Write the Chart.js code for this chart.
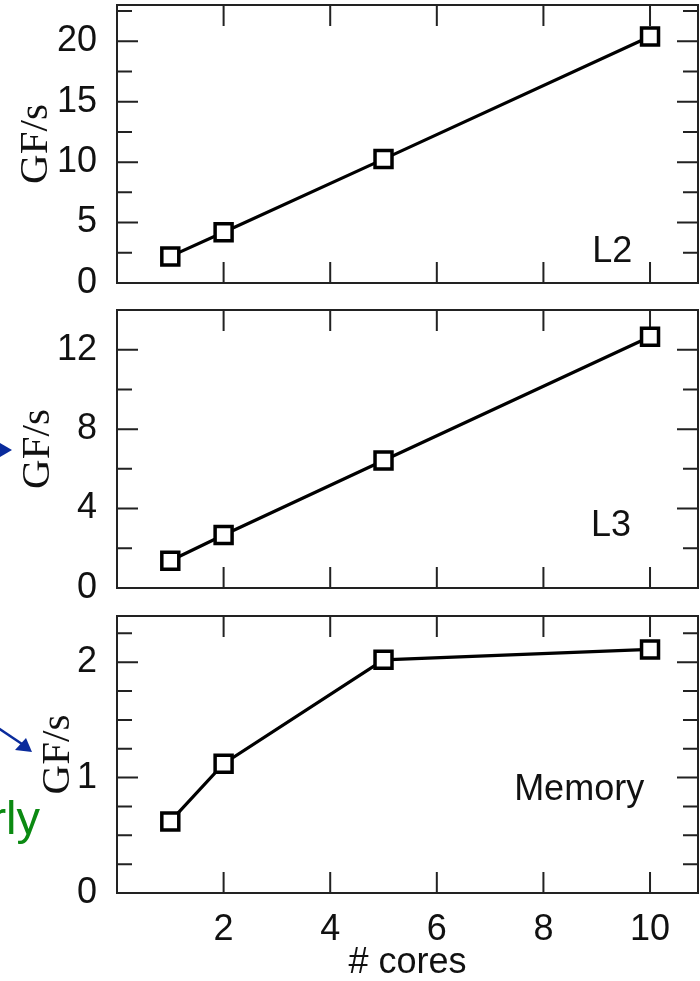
<!DOCTYPE html>
<html>
<head>
<meta charset="utf-8">
<script src="https://cdn.jsdelivr.net/npm/chart.js@4.4.1/dist/chart.umd.min.js"></script>
<style>
  html, body { margin: 0; padding: 0; background: #fff; }
  #wrap { position: relative; width: 700px; height: 981px; overflow: hidden; }
  .panel { position: absolute; left: 0; width: 700px; }
  #deco { position: absolute; left: 0; top: 0; }
</style>
</head>
<body>
<div id="wrap">
  <div class="panel" style="top:0;height:297px"><canvas id="chartL2"></canvas></div>
  <div class="panel" style="top:297px;height:307px"><canvas id="chartL3"></canvas></div>
  <div class="panel" style="top:604px;height:377px"><canvas id="chartMem"></canvas></div>
  <svg id="deco" width="700" height="981">
    <polygon points="0,443 12,450 0,457" fill="#0a2b9c"/>
    <line x1="-2" y1="728" x2="22" y2="744" stroke="#0a2b9c" stroke-width="2.5"/>
    <polygon points="32,752 15,750 26,738" fill="#0a2b9c"/>
    <text x="40" y="834" font-family="'Liberation Sans', Arial, sans-serif" font-size="47" fill="#0b8a12" text-anchor="end">rly</text>
  </svg>
</div>
<script>
// data
const cores = [1, 2, 5, 10];
const gfL2 = [2.2, 4.2, 10.25, 20.4];
const gfL3 = [1.37, 2.67, 6.42, 12.65];
const gfMem = [0.62, 1.12, 2.02, 2.11];

const xTicks = [2, 4, 6, 8, 10];
const yTicksL2 = [0, 5, 10, 15, 20];
const yMinorL2 = [2.5, 7.5, 12.5, 17.5, 22.5];
const yTicksL3 = [0, 4, 8, 12];
const yMinorL3 = [2, 6, 10];
const yTicksMem = [0, 1, 2];
const yMinorMem = [0.25, 0.5, 0.75, 1.25, 1.5, 1.75, 2.25];

Chart.defaults.font.family = "'Liberation Sans', Arial, sans-serif";
Chart.defaults.color = "#111";

// box round the plot + inward ticks on all four sides
const frameTicks = {
  id: "frameTicks",
  beforeDatasetsDraw(chart, args, opts) {
    const { ctx, chartArea: a, scales: { x, y } } = chart;
    ctx.save();
    ctx.strokeStyle = "#222";
    ctx.lineWidth = 2;
    ctx.beginPath();
    const yTick = (v, len) => {
      const py = y.getPixelForValue(v);
      ctx.moveTo(a.left, py); ctx.lineTo(a.left + len, py);
      ctx.moveTo(a.right, py); ctx.lineTo(a.right - len, py);
    };
    opts.major.forEach((v) => yTick(v, 21));
    opts.minor.forEach((v) => yTick(v, 15));
    xTicks.forEach((v) => {
      const px = x.getPixelForValue(v);
      ctx.moveTo(px, a.top); ctx.lineTo(px, a.top + 21);
      ctx.moveTo(px, a.bottom); ctx.lineTo(px, a.bottom - 21);
    });
    ctx.stroke();
    ctx.strokeRect(a.left, a.top, a.right - a.left, a.bottom - a.top);
    ctx.restore();
  },
};

const panelLabel = {
  id: "panelLabel",
  afterDraw(chart, args, opts) {
    const { ctx, scales: { x, y } } = chart;
    ctx.save();
    ctx.font = "36px 'Liberation Sans', Arial, sans-serif";
    ctx.fillStyle = "#111";
    ctx.textAlign = "center";
    ctx.textBaseline = "alphabetic";
    ctx.fillText(opts.text, x.getPixelForValue(opts.x), y.getPixelForValue(opts.y));
    ctx.restore();
  },
};

const makePanel = (id, values, yMax, yTicks, yMinor, label, pad, titlePad, isBottom) => {
  const ctx = document.getElementById(id).getContext("2d");
  return new Chart(ctx, {
    type: "line",
    data: {
      datasets: [
        {
          data: cores.map((c, i) => ({ x: c, y: values[i] })),
          borderColor: "#000",
          borderWidth: 3.2,
          tension: 0,
          pointStyle: "rect",
          pointRadius: 12,
          pointBorderWidth: 3.5,
          pointBorderColor: "#000",
          pointBackgroundColor: "#fff",
        },
      ],
    },
    options: {
      responsive: true,
      maintainAspectRatio: false,
      animation: false,
      layout: { autoPadding: false, padding: pad },
      plugins: {
        legend: { display: false },
        tooltip: { enabled: false },
        frameTicks: { major: yTicks, minor: yMinor },
        panelLabel: label,
      },
      scales: {
        x: {
          type: "linear",
          min: 0,
          max: 10.9,
          display: isBottom,
          afterBuildTicks: (s) => { s.ticks = xTicks.map((v) => ({ value: v })); },
          afterFit: (s) => {
            s.height = isBottom ? 88 : 0;
            s.paddingLeft = 0; s.paddingRight = 0;
          },
          grid: { display: false },
          border: { display: false },
          ticks: { autoSkip: false, maxRotation: 0, padding: 7, font: { size: 36 } },
          title: {
            display: true,
            text: "# cores",
            font: { size: 36, lineHeight: 1 },
            padding: 0,
          },
        },
        y: {
          min: 0,
          max: yMax,
          afterBuildTicks: (s) => { s.ticks = yTicks.map((v) => ({ value: v })); },
          afterFit: (s) => {
            s.width = 117;
            s.paddingTop = 0; s.paddingBottom = 0;
          },
          grid: { display: false },
          border: { display: false },
          ticks: { autoSkip: false, padding: 12, font: { size: 36 } },
          title: {
            display: true,
            text: "GF/s",
            color: "#111",
            font: { family: "'Liberation Serif', 'Times New Roman', serif", size: 41, lineHeight: 1 },
            padding: { top: titlePad, bottom: 0 },
          },
        },
      },
    },
    plugins: [frameTicks, panelLabel],
  });
};

makePanel("chartL2", gfL2, 23, yTicksL2, yMinorL2, { text: "L2", x: 9.29, y: 1.74 },
  { top: 5, bottom: 14, left: 0, right: 2 }, 16, false);
makePanel("chartL3", gfL3, 14, yTicksL3, yMinorL3, { text: "L3", x: 9.27, y: 2.62 },
  { top: 13, bottom: 16, left: 0, right: 2 }, 18, false);
makePanel("chartMem", gfMem, 2.4, yTicksMem, yMinorMem, { text: "Memory", x: 8.67, y: 0.806 },
  { top: 12, bottom: 0, left: 0, right: 2 }, 38, true);
</script>
</body>
</html>
